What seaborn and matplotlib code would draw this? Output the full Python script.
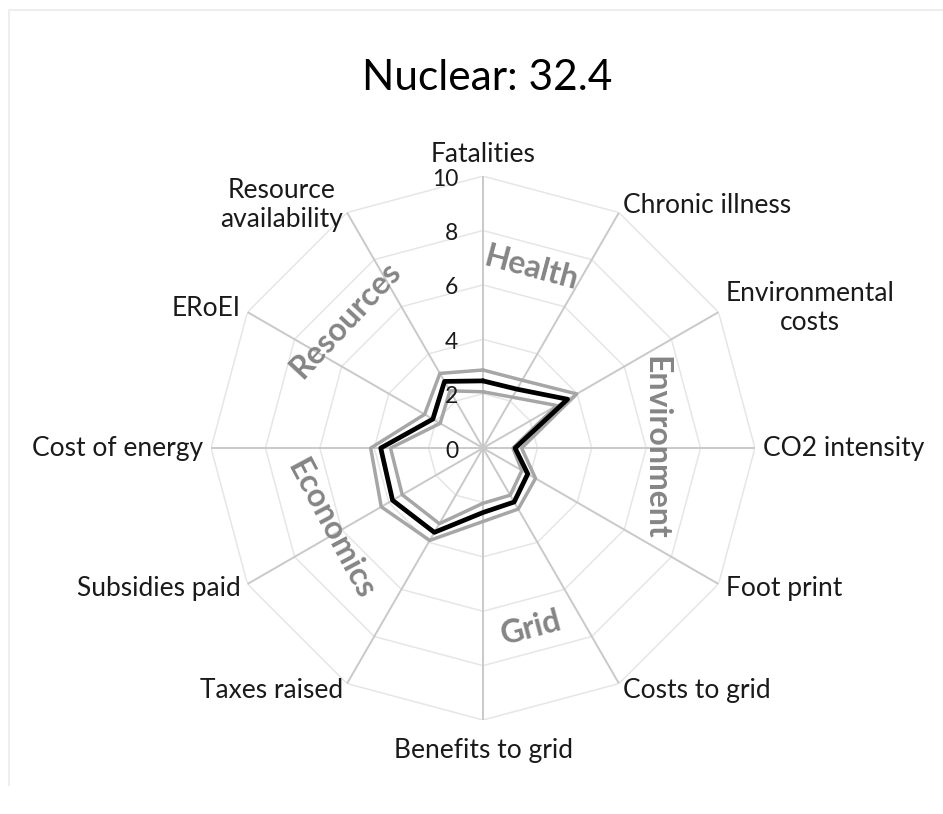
import numpy as np
import pandas as pd
import matplotlib
matplotlib.use("Agg")
import matplotlib.pyplot as plt
import matplotlib.transforms as mtransforms
import seaborn as sns

# data (scores out of 10)
categories = ["Fatalities", "Chronic illness", "Environmental\ncosts", "CO2 intensity",
              "Foot print", "Costs to grid", "Benefits to grid", "Taxes raised",
              "Subsidies paid", "Cost of energy", "ERoEI", "Resource\navailability"]
score = [2.47, 2.50, 3.59, 1.18, 1.90, 2.29, 2.37, 3.58, 3.84, 3.76, 2.13, 2.83]
upper = [2.87, 2.88, 3.98, 1.42, 2.23, 2.59, 2.70, 3.92, 4.32, 4.13, 2.48, 3.17]
lower = [2.07, 2.16, 3.13, 1.10, 1.65, 2.00, 2.03, 3.21, 3.43, 3.40, 1.82, 2.43]
groups = ["Health", "Environment", "Grid", "Economics", "Resources"]
group_angle = [15, 90, 165, 242, 313]
group_radius = [6.85, 6.35, 6.85, 6.35, 6.9]
rings = [2, 4, 6, 8, 10]
title = "Nuclear: 32.4"

sns.set_style("white")
plt.rcParams['font.family'] = ['Lato', 'DejaVu Sans']

n = len(categories)
theta = np.linspace(0, 2 * np.pi, n, endpoint=False)
theta_closed = np.append(theta, 2 * np.pi)

rows = []
for name, vals in [("upper", upper), ("lower", lower), ("score", score)]:
    for t, v in zip(theta_closed, vals + vals[:1]):
        rows.append({"angle": t, "value": v, "series": name})
df = pd.DataFrame(rows)

fig = plt.figure(figsize=(9.43, 8.14), dpi=100)
ax = fig.add_axes([0.2238, 0.1154, 0.5768, 0.6683], projection="polar")
ax.set_theta_zero_location("N")
ax.set_theta_direction(-1)
ax.set_ylim(0, 10)
ax.grid(False)
ax.spines["polar"].set_visible(False)
ax.set_xticks([])
ax.set_yticks([])
ax.patch.set_alpha(0)

# polygon rings and spokes
for r in rings:
    ax.plot(theta_closed, [r] * (n + 1), color="#e6e6e6", lw=1.1, zorder=1)
for t in theta:
    ax.plot([t, t], [0, 10], color="#c9c9c9", lw=1.4, zorder=1)

sns.lineplot(data=df[df.series != "score"], x="angle", y="value", units="series",
             estimator=None, sort=False, color="#a6a6a6", lw=2.5, ax=ax, legend=False, zorder=3)
sns.lineplot(data=df[df.series == "score"], x="angle", y="value",
             estimator=None, sort=False, color="black", lw=3.4, ax=ax, legend=False, zorder=4)
ax.set_xlabel("")
ax.set_ylabel("")
ax.set_ylim(0, 10)

# radial tick labels
off = mtransforms.offset_copy(ax.transData, fig=fig, x=-25, y=-3, units="dots")
for r in [0] + rings:
    ax.text(0, r, str(r), transform=off, ha="right", va="center", fontsize=16.5, color="#1a1a1a")

# category labels
lab_size = 19
for t, lab in zip(theta, categories):
    deg = np.degrees(t)
    if np.isclose(deg, 0):
        ax.text(t, 10.35, lab, ha="center", va="bottom", fontsize=lab_size, color="#1a1a1a")
    elif np.isclose(deg, 180):
        ax.text(t, 10.65, lab, ha="center", va="top", fontsize=lab_size, color="#1a1a1a")
    else:
        ha = "left" if deg < 180 else "right"
        ax.text(t, 10.3, lab, ha=ha, va="center", fontsize=lab_size, color="#1a1a1a",
                multialignment="center", linespacing=1.2)

# group labels along the circle
for g, a, rr in zip(groups, group_angle, group_radius):
    rot = -a if a <= 90 else (180 - a if a < 270 else 360 - a)
    ax.text(np.radians(a), rr, g, ha="center", va="center", rotation=rot,
            rotation_mode="anchor", fontsize=23, fontweight="bold", color="#858585")

fig.suptitle(title, x=0.517, y=0.928, fontsize=30.5, color="black")

# light chart-area frame
fig.add_artist(plt.Line2D([9 / 943, 1], [1 - 10 / 814, 1 - 10 / 814], color="#eeeeee", lw=1.5))
fig.add_artist(plt.Line2D([9 / 943, 9 / 943], [1 - 10 / 814, 1 - 785 / 814], color="#eeeeee", lw=1.5))

fig.savefig("out.png", dpi=100)
